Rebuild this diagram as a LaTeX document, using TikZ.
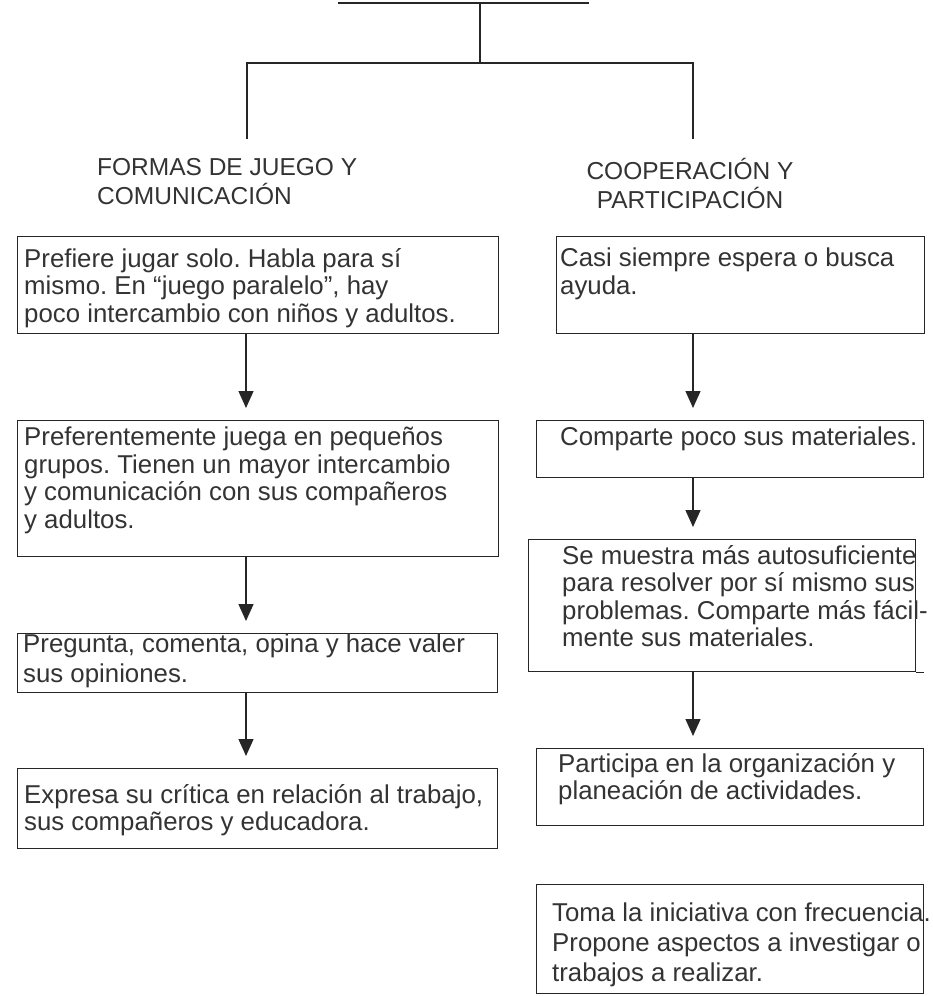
\documentclass[tikz,border=0pt]{standalone}
\usepackage{fontspec}
\setmainfont{Liberation Sans}
\frenchspacing
\usetikzlibrary{positioning,arrows.meta}
\tikzset{
  caja/.style={draw=black!85,line width=1.3pt,anchor=north west,inner sep=0pt},
  texto/.style={anchor=north west,inner sep=0pt,align=left,text=black!80,font=\fontsize{25.8}{27.5}\selectfont},
  textoancho/.style={texto,font=\fontsize{25.8}{30}\selectfont},
  encabezado/.style={inner sep=0pt,text=black!80,font=\fontsize{24.5}{29}\selectfont},
  linea/.style={draw=black!85,line width=1.3pt},
  flecha/.style={linea,-{Triangle[width=15pt,length=17pt]},shorten >=12pt}
}

\begin{document}
\begin{tikzpicture}[x=1pt,y=-1pt]
\useasboundingbox[fill=white] (0,0) rectangle (933,996);

% arbol superior
\coordinate (tit) at (480,3);
\coordinate (rama) at (480,63);
\coordinate (hL) at (247,139);
\coordinate (hR) at (693,139);
\coordinate (subA) at (338,3);
\coordinate (subB) at (589,3);
\draw[linea] (subA) -- (subB);
\draw[linea] (tit) -- (rama);
\draw[linea] (hL) |- (rama) -| (hR);

% encabezados
\node[encabezado,anchor=north west,align=left] (encL) at (97,158) {FORMAS DE JUEGO Y\\COMUNICACIÓN};
\node[encabezado,anchor=north,align=center] (encR) at (690,158) {COOPERACIÓN Y\\PARTICIPACIÓN};

% columna izquierda
\coordinate (colL) at (246,0);
\node[caja,minimum width=481pt,minimum height=97pt] (b1) at (17,236) {};
\node[texto] (b1t) at (24,248) {Prefiere jugar solo. Habla para sí\\mismo. En “juego paralelo”, hay\\poco intercambio con niños y adultos.};
\node[caja,minimum width=481pt,minimum height=136pt] (b2) at (17,420) {};
\node[texto] (b2t) at (24,427) {Preferentemente juega en pequeños\\grupos. Tienen un mayor intercambio\\y comunicación con sus compañeros\\y adultos.};
\node[caja,minimum width=480pt,minimum height=59pt] (b3) at (17,633) {};
\node[textoancho] (b3t) at (23,634) {Pregunta, comenta, opina y hace valer\\sus opiniones.};
\node[caja,minimum width=480pt,minimum height=80pt] (b4) at (17,768) {};
\node[texto] (b4t) at (24,784) {Expresa su crítica en relación al trabajo,\\sus compañeros y educadora.};

\draw[flecha] (b1.south -| colL) -- (b2.north -| colL);
\draw[flecha] (b2.south -| colL) -- (b3.north -| colL);
\draw[flecha] (b3.south -| colL) -- (b4.north -| colL);

% columna derecha
\coordinate (colR) at (693,0);
\node[caja,minimum width=368pt,minimum height=97pt] (r1) at (556,236) {};
\node[texto] (r1t) at (560,248) {Casi siempre espera o busca\\ayuda.};
\node[caja,minimum width=387pt,minimum height=57pt] (r2) at (536,420) {};
\node[texto] (r2t) at (560,427) {Comparte poco sus materiales.};
\node[caja,minimum width=387pt,minimum height=132pt] (r3) at (528,539) {};
\draw[linea] (r3.south east) -- ++(8,0);
\node[texto] (r3t) at (562,545) {Se muestra más autosuficiente\\para resolver por sí mismo sus\\problemas. Comparte más fácil-\\mente sus materiales.};
\node[caja,minimum width=387pt,minimum height=77pt] (r4) at (536,748) {};
\node[texto] (r4t) at (558,753) {Participa en la organización y\\planeación de actividades.};
\node[caja,minimum width=387pt,minimum height=109pt] (r5) at (536,884) {};
\node[textoancho] (r5t) at (552,903) {Toma la iniciativa con frecuencia.\\Propone aspectos a investigar o\\trabajos a realizar.};

\draw[flecha] (r1.south -| colR) -- (r2.north -| colR);
\draw[flecha] (r2.south -| colR) -- (r3.north -| colR);
\draw[flecha] (r3.south -| colR) -- (r4.north -| colR);
\end{tikzpicture}
\end{document}
